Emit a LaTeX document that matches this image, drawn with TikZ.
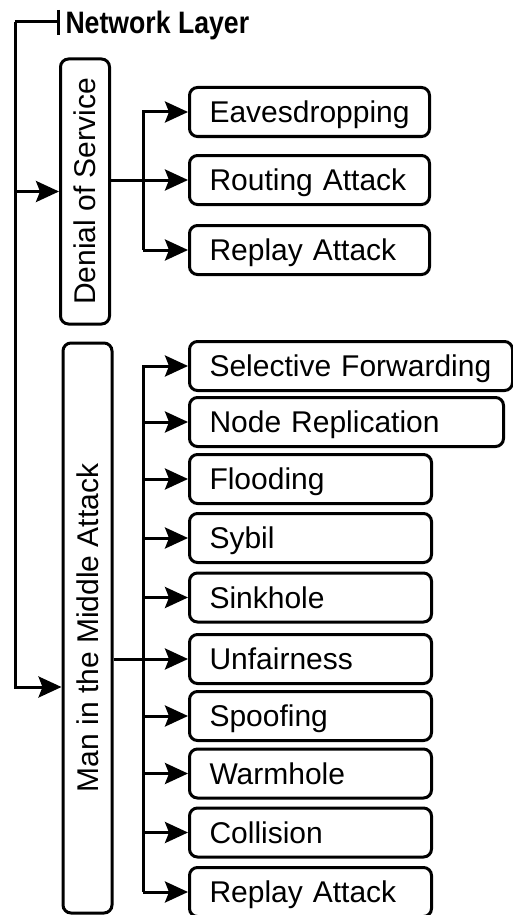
\documentclass[tikz,border=0pt]{standalone}
\usepackage{fontspec}
\setmainfont{Liberation Sans}
\newfontfamily\titlefont{Liberation Sans}[FakeStretch=0.86]
\usetikzlibrary{arrows.meta}

\begin{document}
\begin{tikzpicture}[x=1pt,y=1pt,yscale=-1,xscale=1,
  line width=3pt,
  box/.style={draw, line width=3pt, rounded corners=8pt, font=\fontsize{30}{32}\selectfont, text height=21.5pt, text depth=0pt},
  side/.style={box, rotate=90, minimum height=49pt, inner sep=0pt},
  leaf/.style={box, anchor=west, minimum height=49pt, inner xsep=20pt, inner ysep=0pt, align=left, text width=#1},
  leaf/.default=202pt,
  arr/.style={-{Stealth[length=23pt,width=21pt,inset=4pt]}}]
\useasboundingbox (0,0) rectangle (512,915);

% Title
\node (title) [anchor=base west, inner sep=0pt, font=\titlefont\fontsize{31}{33}\selectfont\bfseries] at (64,34) {Network Layer};
\coordinate (tick) at (58,22);
\coordinate (root) at (15,22);
\draw (tick) ++(0,-12) -- ++(0,25);
\draw (tick) -- (root);

% Denial of Service
\node (dos) [side, minimum width=265pt] at (85,191.5) {Denial of Service};
\node (eaves) [leaf=200pt] at (188,112) {Eavesdropping};
\node (routing) [leaf=200pt] at (188,180) {Routing Attack};
\node (replayA) [leaf=200pt] at (188,250) {Replay Attack};

% Man in the Middle Attack
\node (mitm) [side, minimum width=570pt] at (87.5,628) {Man in the Middle Attack};
\node (selfwd) [leaf=283pt] at (188,366) {Selective Forwarding};
\node (noderep) [leaf=274pt] at (188,422) {Node Replication};
\node (flood) [leaf] at (188,479) {Flooding};
\node (sybil) [leaf] at (188,538) {Sybil};
\node (sink) [leaf] at (188,597.5) {Sinkhole};
\node (unfair) [leaf] at (188,659) {Unfairness};
\node (spoof) [leaf] at (188,716) {Spoofing};
\node (warm) [leaf] at (188,773.5) {Warmhole};
\node (coll) [leaf] at (188,832.5) {Collision};
\node (replayB) [leaf] at (188,892) {Replay Attack};

% trunk
\draw[arr] (root) |- (dos.north);
\draw[arr] (root) |- (mitm.north |- 0,687);

% DoS branches
\coordinate (dbus) at (143,0);
\draw[arr] (dos.south |- routing.west) -- (routing.west);
\draw[arr] (dbus |- replayA.west) |- (eaves.west);
\draw[arr] (dbus |- replayA.west) -- (replayA.west);

% MitM branches
\coordinate (mbus) at (143,0);
\draw[arr] (mitm.south |- unfair.west) -- (unfair.west);
\draw[arr] (mbus |- replayB.west) |- (selfwd.west);
\draw[arr] (mbus |- noderep.west) -- (noderep.west);
\draw[arr] (mbus |- flood.west) -- (flood.west);
\draw[arr] (mbus |- sybil.west) -- (sybil.west);
\draw[arr] (mbus |- sink.west) -- (sink.west);
\draw[arr] (mbus |- spoof.west) -- (spoof.west);
\draw[arr] (mbus |- warm.west) -- (warm.west);
\draw[arr] (mbus |- coll.west) -- (coll.west);
\draw[arr] (mbus |- replayB.west) -- (replayB.west);

\end{tikzpicture}
\end{document}
